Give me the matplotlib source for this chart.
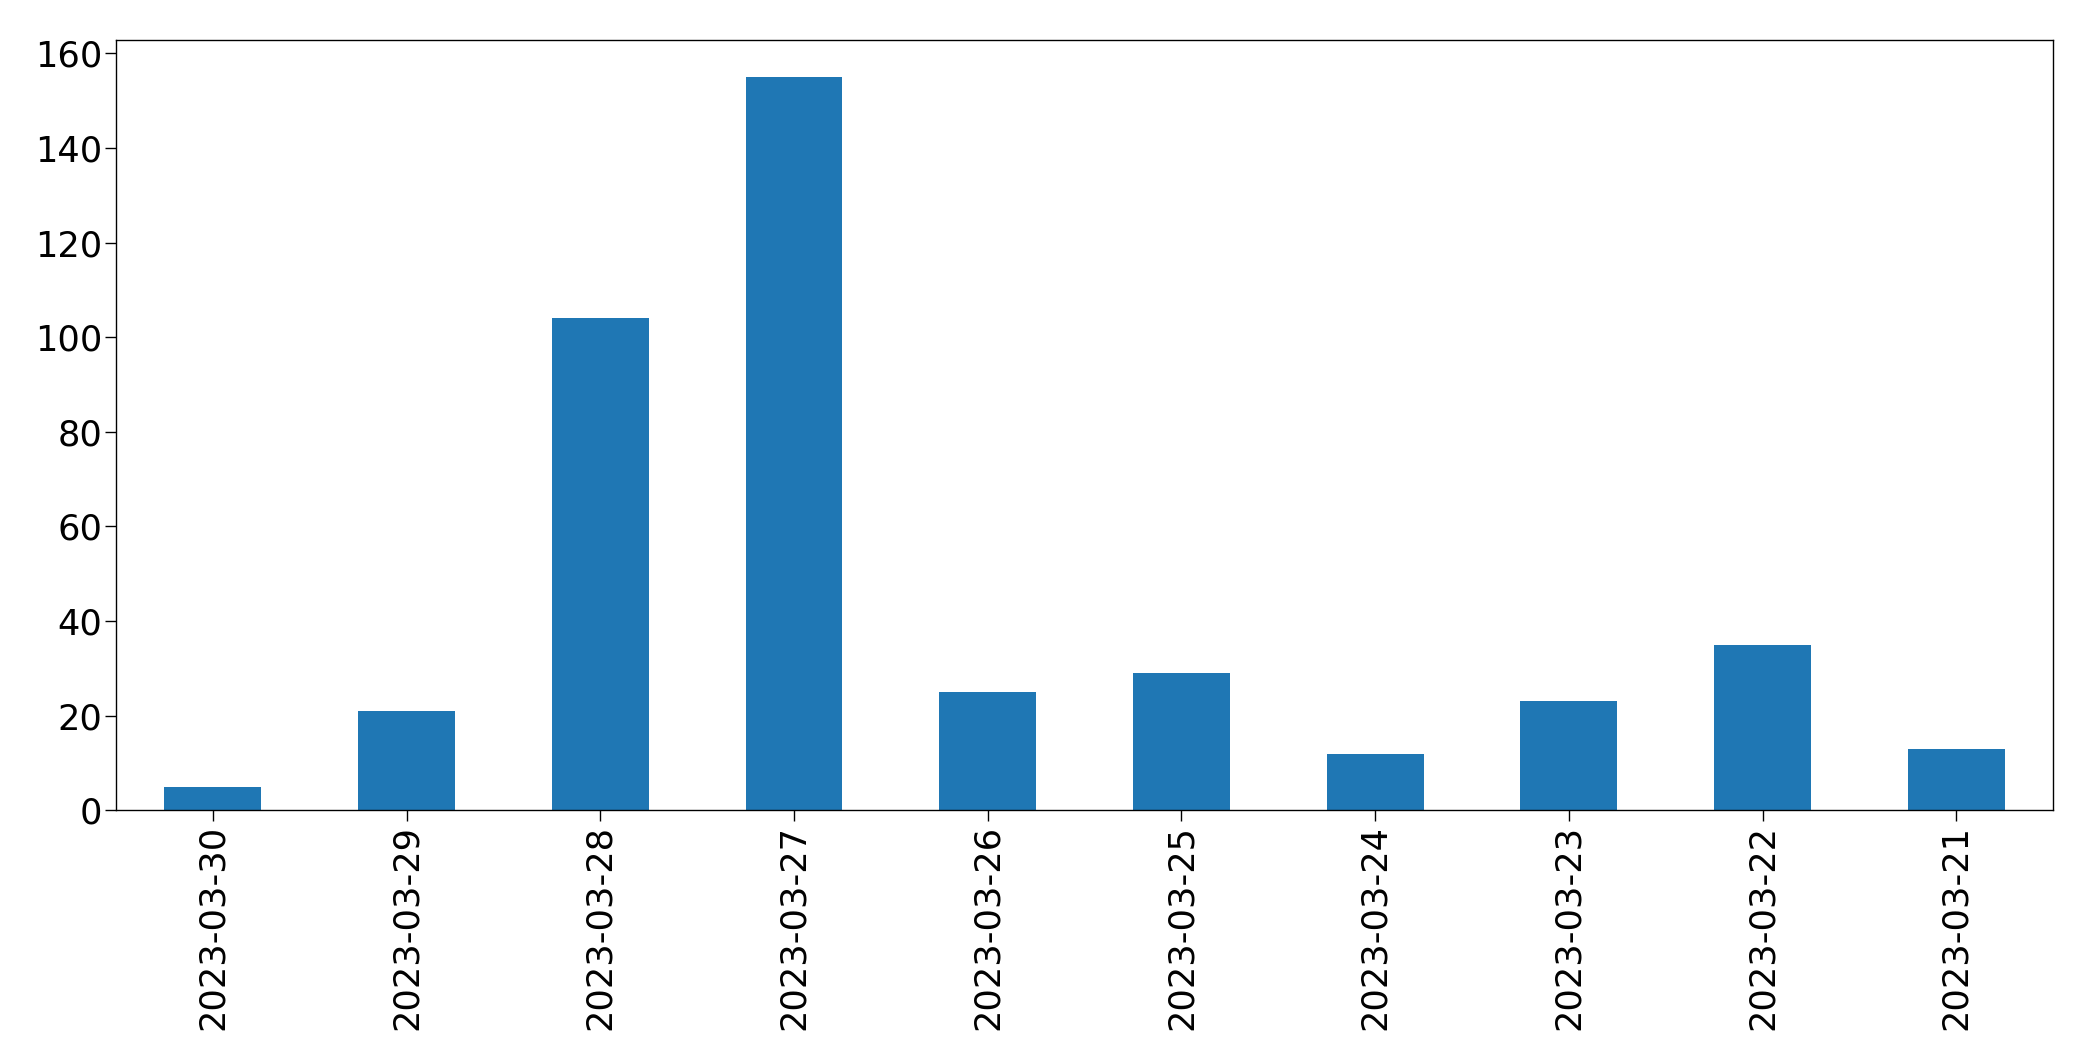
import matplotlib
matplotlib.use("Agg")
import matplotlib.pyplot as plt
import pandas as pd

# daily counts, newest first (as in the original chart)
dates = ["2023-03-30", "2023-03-29", "2023-03-28", "2023-03-27", "2023-03-26",
         "2023-03-25", "2023-03-24", "2023-03-23", "2023-03-22", "2023-03-21"]
counts = [5, 21, 104, 155, 25, 29, 12, 23, 35, 13]

series = pd.Series(counts, index=dates)

fig = plt.figure(figsize=(2093 / 220, 1062 / 220), dpi=220)
ax = fig.add_axes([0.0554, 0.237, 0.9256, 0.725])
series.plot(kind="bar", ax=ax, color="#1f77b4", width=0.5)

for sp in ax.spines.values():
    sp.set_linewidth(0.45)
ax.tick_params(axis="both", labelsize=11.5, width=0.45, length=3.5)
ax.tick_params(axis="y", pad=1.0)
ax.tick_params(axis="x", pad=1.2)
ax.set_xticklabels(dates, rotation=90)

fig.savefig("out.png", dpi=220)
